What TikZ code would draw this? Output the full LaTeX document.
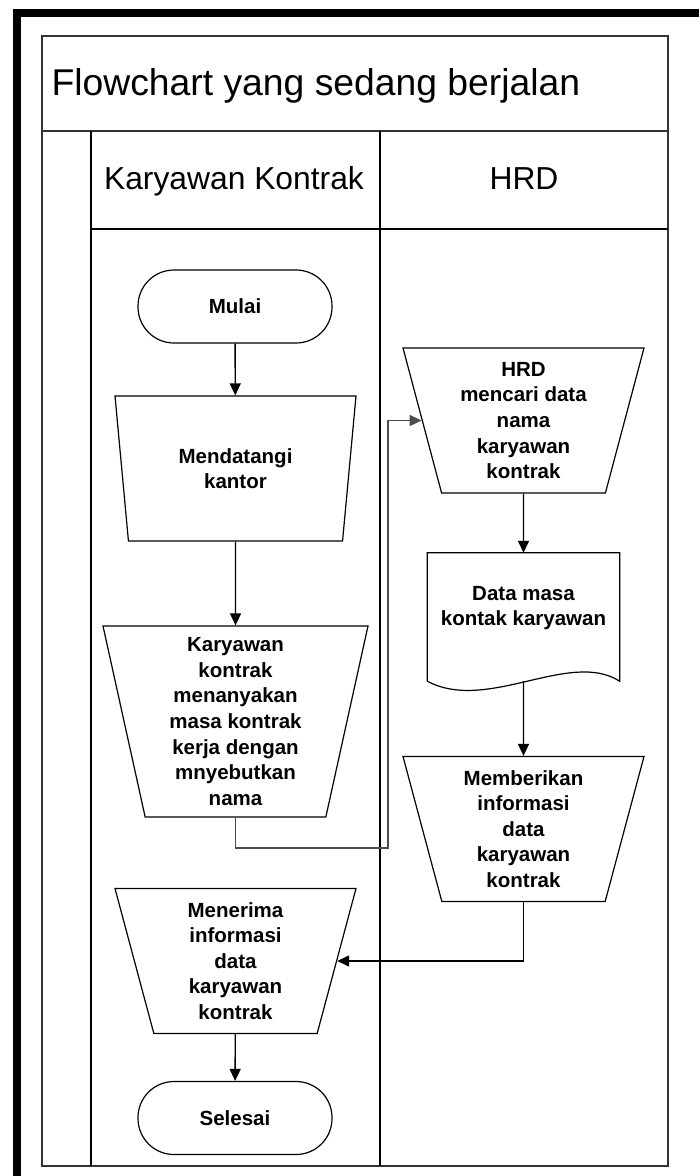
\documentclass[tikz,border=0pt]{standalone}
\usepackage{fontspec}
\setmainfont{Liberation Sans}
\usetikzlibrary{calc,positioning,arrows.meta,shapes.geometric}

\begin{document}
\begin{tikzpicture}[x=1pt,y=-1pt,
  proses/.style={trapezium,trapezium stretches body,draw,line width=1.2pt,inner sep=0pt,minimum width=241pt,minimum height=145pt,trapezium left angle=108.3,trapezium right angle=108.3,align=center,font=\bfseries\fontsize{20.5}{25.6}\selectfont},
  ujung/.style={rectangle,rounded corners=36pt,draw,line width=1.2pt,minimum width=194pt,minimum height=73pt,font=\bfseries\fontsize{20.5}{25.6}\selectfont},
  teks/.style={align=center,font=\bfseries\fontsize{20.5}{25.6}\selectfont},
  alur/.style={-{Triangle[length=12pt,width=11pt]},line width=1.4pt}]
            \useasboundingbox (0,0) rectangle (699,1176);
            \draw[line width=8pt] (16.5,1190) -- (16.5,13) -- (710,13);

            \draw[line width=1.8pt,black!80] (42,36) rectangle (668,1166);
            \draw[line width=2.6pt,black!80] (42,131) -- (668,131);
            \draw[line width=1.4pt] (91,131) -- (91,1166);
            \draw[line width=1.4pt] (380,131) -- (380,1166);
            \draw[line width=1.4pt] (91,229) -- (668,229);
            \node[anchor=base west,font=\fontsize{37.3}{40}\selectfont] (judul) at (48,95) {Flowchart yang sedang berjalan};
            \node[anchor=base,font=\fontsize{31.8}{34}\selectfont] (lane1) at (234,189) {Karyawan Kontrak};
            \node[anchor=base,font=\fontsize{31.8}{34}\selectfont] (lane2) at (524,189) {HRD};

            \node[ujung] (mulai) at (235,306.5) {Mulai};
            \node[proses] (md) at (235.5,468.5) {Mendatangi\\kantor};
            \node[proses,minimum width=265pt,minimum height=191pt,trapezium left angle=104.1,trapezium right angle=104.1] (kk) at (235.5,721.5) {Karyawan\\kontrak\\menanyakan\\masa kontrak\\kerja dengan\\mnyebutkan\\nama};
            \node[proses] (mn) at (235.5,961) {Menerima\\informasi\\data\\karyawan\\kontrak};
            \node[ujung] (selesai) at (235,1118) {Selesai};

            \node[proses] (hrd) at (523.5,420.5) {HRD\\mencari data\\nama\\karyawan\\kontrak};
            \node[minimum width=192pt,minimum height=128pt,inner sep=0pt] (dok) at (523.5,617) {};
            \node[teks] (doklabel) at (523.5,608) {Data masa\\kontak karyawan};
            \draw[line width=1.2pt] (dok.south west) -- (dok.north west) -- (dok.north east) -- (dok.south east) .. controls +(-50,-32) and +(60,32) .. (dok.south west);
            \node[proses] (mb) at (523.5,829) {Memberikan\\informasi\\data\\karyawan\\kontrak};

            \coordinate (belok1) at (388,848);
            \draw[alur] (mulai) -- (md);
            \draw[alur] (md) -- (kk);
            \draw[alur,black!70] (kk.south) |- (belok1) |- (hrd.west);
            \draw[alur] (hrd) -- (dok);
            \draw[alur] (dok.south) -- (mb.north);
            \draw[alur] (mb.south) |- (mn.east);
            \draw[alur] (mn) -- (selesai);
          \end{tikzpicture}
\end{document}
